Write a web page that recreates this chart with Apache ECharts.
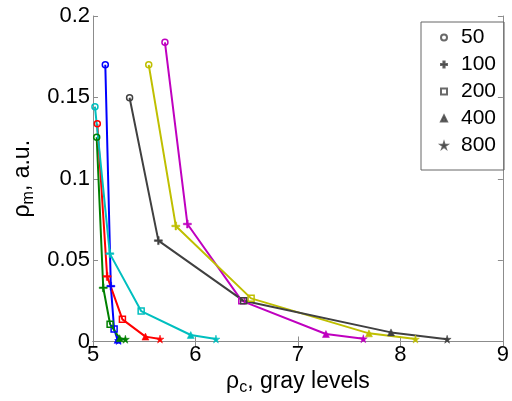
<!DOCTYPE html>
<html><head><meta charset="utf-8">
<script src="https://cdn.jsdelivr.net/npm/echarts@6/dist/echarts.min.js"></script>
<style>html,body{margin:0;padding:0;background:#fff}#c{width:512px;height:401px}</style>
</head><body><div id="c"></div>
<script>
// legend entries (marker per point index)
const sizeLabels = ['50', '100', '200', '400', '800'];
// series: x (rho_c) and y (rho_m) values per point
const blueX = [5.12, 5.174, 5.206, 5.24, 5.25];
const blueY = [0.170, 0.034, 0.0077, 0.001, 0.0006];
const greenX = [5.036, 5.10, 5.167, 5.26, 5.316];
const greenY = [0.1255, 0.033, 0.0106, 0.002, 0.0014];
const redX = [5.042, 5.138, 5.287, 5.512, 5.654];
const redY = [0.1338, 0.040, 0.0136, 0.003, 0.0015];
const cyanX = [5.019, 5.164, 5.47, 5.954, 6.20];
const cyanY = [0.1443, 0.054, 0.0187, 0.004, 0.0015];
const magentaX = [5.702, 5.921, 6.452, 7.273, 7.638];
const magentaY = [0.1838, 0.0722, 0.025, 0.0046, 0.0017];
const yellowX = [5.544, 5.808, 6.543, 7.693, 8.147];
const yellowY = [0.170, 0.071, 0.0265, 0.005, 0.0015];
const grayX = [5.357, 5.638, 6.47, 7.908, 8.456];
const grayY = [0.1498, 0.062, 0.025, 0.0056, 0.0014];
const xTicks = [5, 6, 7, 8, 9];
const yTicks = [0, 0.05, 0.1, 0.15, 0.2];

const plusPath = 'path://M4,0H6V4H10V6H6V10H4V6H0V4H4Z';
const starPath = 'path://M50,0L61,35L98,35L68,57L79,91L50,70L21,91L32,57L2,35L39,35Z';
const markers = ['circle', plusPath, 'rect', 'triangle', starPath];
const filled = [false, true, false, true, true];
const msize = [6, 8, 6, 7, 8];

const groups = [
  {x: blueX, y: blueY, c: '#0000ff'},
  {x: greenX, y: greenY, c: '#008000'},
  {x: redX, y: redY, c: '#ff0000'},
  {x: cyanX, y: cyanY, c: '#00bfbf'},
  {x: magentaX, y: magentaY, c: '#bf00bf'},
  {x: yellowX, y: yellowY, c: '#bfbf00'},
  {x: grayX, y: grayY, c: '#404040'}
];

const FONT = 'Liberation Sans, Arial, sans-serif';
const axisCol = '#8c8c8c';

const series = groups.map(g => ({
  type: 'line',
  xAxisIndex: 0, yAxisIndex: 0,
  silent: true,
  lineStyle: {color: g.c, width: 2},
  itemStyle: {color: g.c},
  emphasis: {disabled: true},
  data: g.x.map((xv, i) => ({
    value: [xv, g.y[i]],
    symbol: markers[i],
    symbolSize: msize[i],
    itemStyle: {color: filled[i] ? g.c : 'rgba(255,255,255,0)', borderColor: g.c, borderWidth: filled[i] ? 0.5 : 1.5}
  }))
}));

sizeLabels.forEach((name, i) => {
  series.push({
    type: 'scatter', name: name, data: [],
    symbol: markers[i], symbolSize: 5,
    itemStyle: {color: filled[i] ? '#444' : '#fff', borderColor: '#444', borderWidth: filled[i] ? 0.5 : 1.2}
  });
});

const titleRich = {
  a: {fontSize: 23, fontFamily: FONT, color: '#000', lineHeight: 28, verticalAlign: 'middle'},
  s: {fontSize: 16, fontFamily: FONT, color: '#000', lineHeight: 16, verticalAlign: 'bottom'}
};

const chart = echarts.init(document.getElementById('c'), null, {renderer: 'canvas'});
chart.setOption({
  animation: false,
  backgroundColor: '#fff',
  textStyle: {fontFamily: FONT},
  grid: {left: 93, right: 5, top: 16, bottom: 59.5, containLabel: false},
  legend: {
    show: true, orient: 'vertical', left: 421, top: 22,
    padding: [5, 8, 14, 19],
    itemWidth: 6, itemHeight: 6, itemGap: 6,
    borderColor: '#666', borderWidth: 1, borderRadius: 0,
    selectedMode: false,
    data: sizeLabels,
    textStyle: {fontSize: 21, lineHeight: 20, color: '#000', fontFamily: FONT, padding: [0, 0, 0, 9]}
  },
  xAxis: [{
    type: 'value', min: xTicks[0], max: xTicks[xTicks.length - 1], interval: 1,
    position: 'bottom',
    axisLine: {show: true, lineStyle: {color: axisCol, width: 1}},
    axisTick: {show: true, inside: true, length: 5, lineStyle: {color: axisCol}},
    splitLine: {show: false},
    axisLabel: {fontSize: 22, color: '#000', margin: 2, fontFamily: FONT},
    name: '{a|ρ}{s|c}{a|, gray levels}',
    nameLocation: 'middle', nameGap: 25,
    nameTextStyle: {rich: titleRich}
  }, {
    type: 'value', min: xTicks[0], max: xTicks[xTicks.length - 1], interval: 1,
    position: 'top',
    axisLine: {show: true, lineStyle: {color: axisCol, width: 1}},
    axisTick: {show: true, inside: true, length: 5, lineStyle: {color: axisCol}},
    splitLine: {show: false}, axisLabel: {show: false}
  }],
  yAxis: [{
    type: 'value', min: yTicks[0], max: yTicks[yTicks.length - 1], interval: 0.05,
    position: 'left',
    axisLine: {show: true, lineStyle: {color: axisCol, width: 1}},
    axisTick: {show: true, inside: true, length: 5, lineStyle: {color: axisCol}},
    splitLine: {show: false},
    axisLabel: {fontSize: 22, color: '#000', margin: 3, fontFamily: FONT},
    name: '{a|ρ}{s|m}{a|, a.u.}',
    nameLocation: 'middle', nameGap: 51, nameRotate: 90,
    nameTextStyle: {rich: titleRich}
  }, {
    type: 'value', min: yTicks[0], max: yTicks[yTicks.length - 1], interval: 0.05,
    position: 'right',
    axisLine: {show: true, lineStyle: {color: axisCol, width: 1}},
    axisTick: {show: true, inside: true, length: 5, lineStyle: {color: axisCol}},
    splitLine: {show: false}, axisLabel: {show: false}
  }],
  series: series
});
</script>
</body></html>
